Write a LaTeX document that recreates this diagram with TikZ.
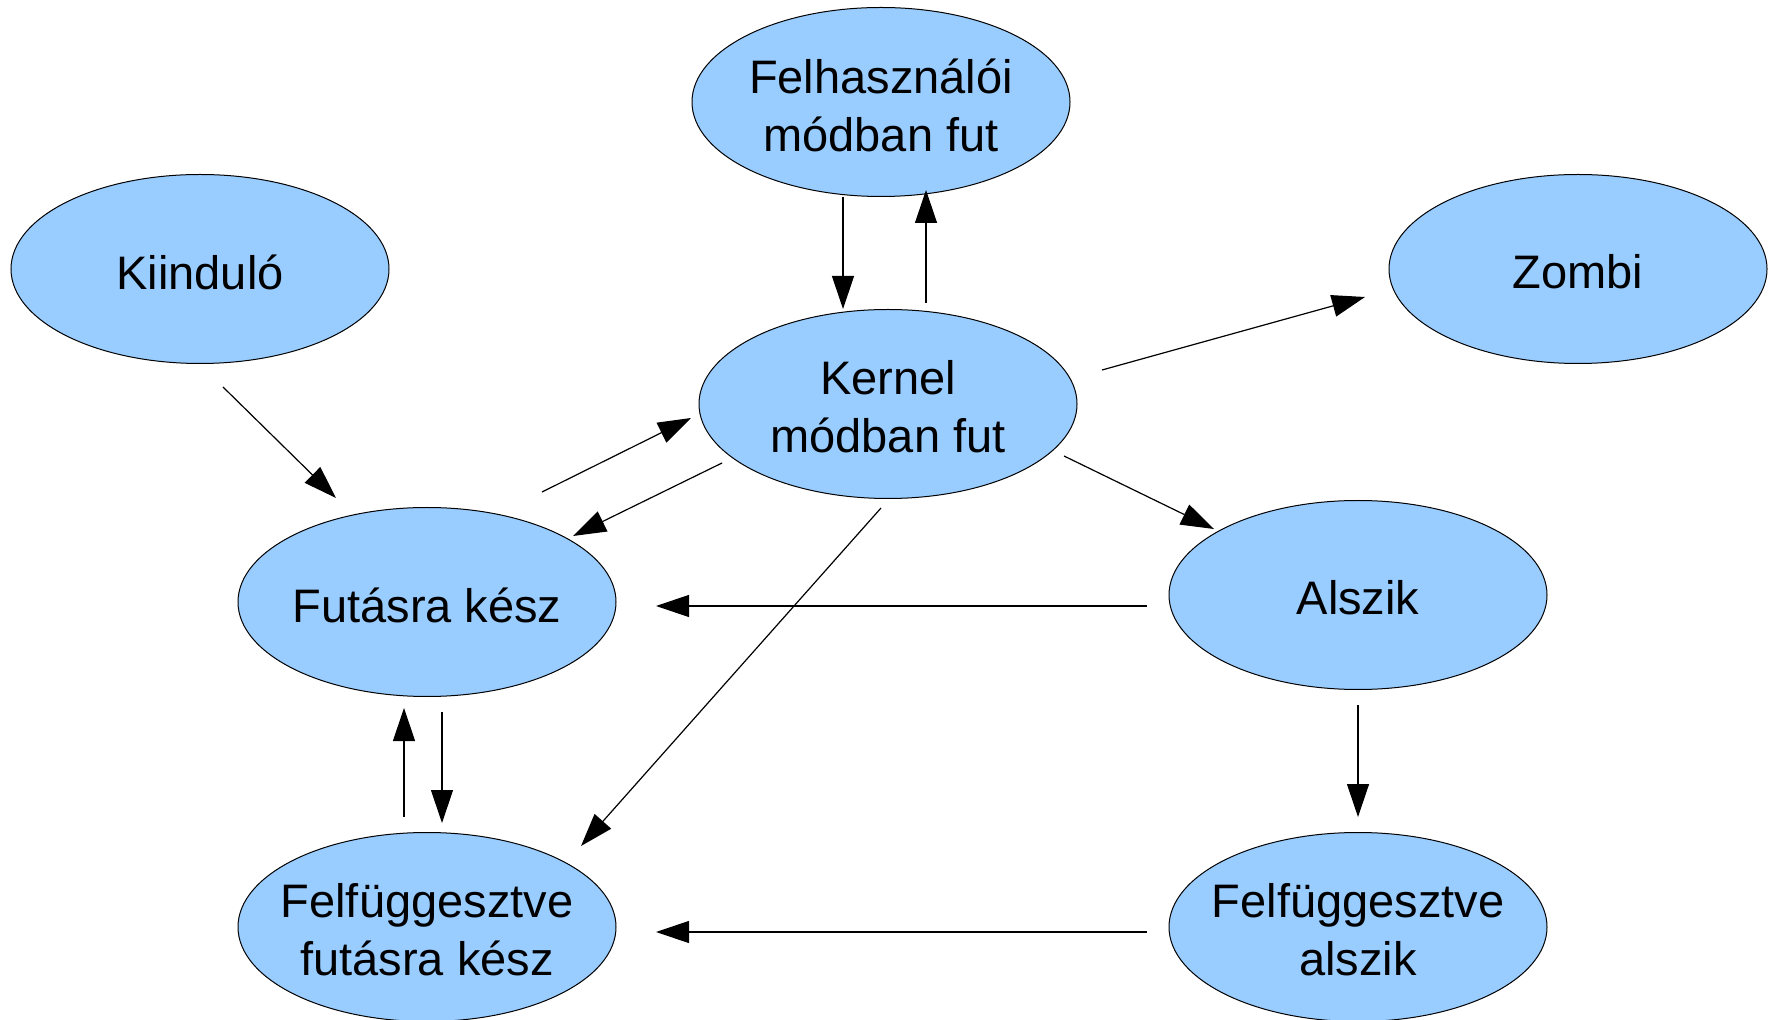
\documentclass[tikz,border=0pt]{standalone}
\usepackage{fontspec}
\setmainfont{Liberation Sans}
\usetikzlibrary{arrows.meta,calc,shapes.geometric}
\definecolor{stateblue}{HTML}{99CCFF}
\begin{document}
\begin{tikzpicture}[x=0.5pt,y=-0.5pt,
  state/.style={ellipse,draw=black,line width=0.5pt,fill=stateblue,
    minimum width=189pt,minimum height=94.5pt,inner sep=0pt,
    label={[statetext]center:#1}},
  statetext/.style={align=center,yshift=-1.5pt,inner sep=0pt,
    font=\fontsize{23.5}{29}\selectfont},
  conn/.style={line width=0.6pt,-{Triangle[length=16.5pt,width=11pt]}}]
\useasboundingbox[fill=white] (0,0) rectangle (1771,1020);
\node[state={Felhasználói\\módban fut}] (felh)  at (881,102) {};
\node[state={Kernel\\módban fut}] (kern)  at (888,404) {};
\node[state={Kiinduló}] (kiin)  at (200,269) {};
\node[state={Zombi}] (zomb)  at (1578,269) {};
\node[state={Futásra kész}] (fut)   at (427,602) {};
\node[state={Alszik}] (alsz)  at (1358,595) {};
\node[state={Felfüggesztve\\futásra kész}] (ffut)  at (427,927) {};
\node[state={Felfüggesztve\\alszik}] (falsz) at (1358,927) {};
\draw[conn] ($(felh)+(-38,95)$) -- ($(kern)+(-45,-95)$);
\draw[conn] ($(kern)+(38,-101)$) -- ($(felh)+(45,88)$);
\draw[conn] ($(kiin)+(23,118)$) -- ($(fut)+(-91,-104)$);
\draw[conn] ($(fut)+(115,-110)$) -- ($(kern)+(-197,14)$);
\draw[conn] ($(kern)+(-166,59)$) -- ($(fut)+(146,-66)$);
\draw[conn] ($(kern)+(214,-34)$) -- ($(zomb)+(-213,28)$);
\draw[conn] ($(kern)+(176,52)$) -- ($(alsz)+(-144,-66)$);
\draw[conn] ($(kern)+(-7,104)$) -- ($(ffut)+(154,-81)$);
\draw[conn] ($(alsz)+(-211,11)$) -- ($(fut)+(229,4)$);
\draw[conn] ($(alsz)+(0,110)$) -- ($(falsz)+(0,-110)$);
\draw[conn] ($(fut)+(15,110)$) -- ($(ffut)+(15,-104)$);
\draw[conn] ($(ffut)+(-23,-110)$) -- ($(fut)+(-23,106)$);
\draw[conn] ($(falsz)+(-211,5)$) -- ($(ffut)+(229,5)$);
\end{tikzpicture}
\end{document}
